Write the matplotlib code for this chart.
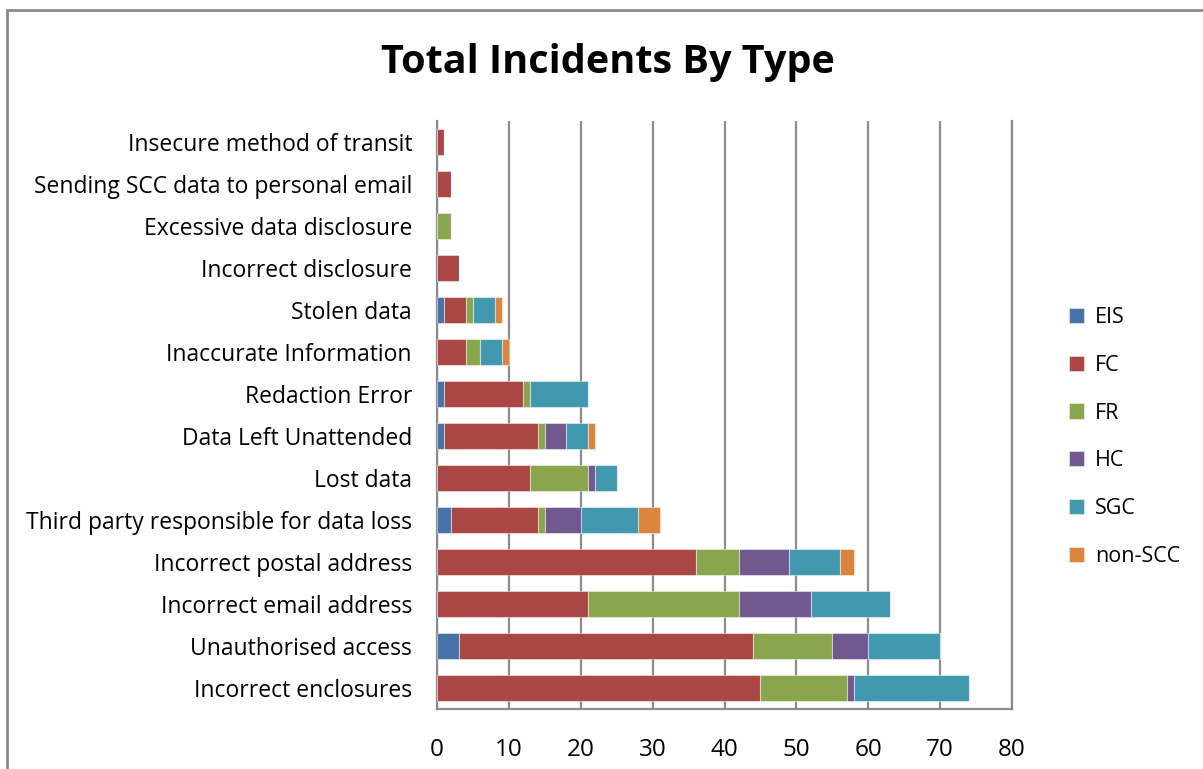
import matplotlib
matplotlib.use("Agg")
import matplotlib.pyplot as plt
import numpy as np
from matplotlib.patches import Rectangle

plt.rcParams['font.family'] = ['Open Sans', 'DejaVu Sans']

categories = [
    "Insecure method of transit",
    "Sending SCC data to personal email",
    "Excessive data disclosure",
    "Incorrect disclosure",
    "Stolen data",
    "Inaccurate Information",
    "Redaction Error",
    "Data Left Unattended",
    "Lost data",
    "Third party responsible for data loss",
    "Incorrect postal address",
    "Incorrect email address",
    "Unauthorised access",
    "Incorrect enclosures",
]

series_names = ["EIS", "FC", "FR", "HC", "SGC", "non-SCC"]

eis     = [0, 0, 0, 0, 1, 0, 1, 1, 0, 2, 0, 0, 3, 0]
fc      = [1, 2, 0, 3, 3, 4, 11, 13, 13, 12, 36, 21, 41, 45]
fr      = [0, 0, 2, 0, 1, 2, 1, 1, 8, 1, 6, 21, 11, 12]
hc      = [0, 0, 0, 0, 0, 0, 0, 3, 1, 5, 7, 10, 5, 1]
sgc     = [0, 0, 0, 0, 3, 3, 8, 3, 3, 8, 7, 11, 10, 16]
non_scc = [0, 0, 0, 0, 1, 1, 0, 1, 0, 3, 2, 0, 0, 0]

colors = ["#4572A7", "#AA4643", "#89A54E", "#71588F", "#4198AF", "#DB843D"]
grid_gray = "#8c8c8c"

fig = plt.figure(figsize=(12.03, 7.69), dpi=100)
W, H = 1203, 769

# chart frame
fig.patches.append(Rectangle((7 / W, -0.1), 1.2, (H - 10) / H + 0.1,
                             transform=fig.transFigure, fill=False,
                             edgecolor="#8a8a8a", linewidth=2.0))

ax = fig.add_axes([437 / W, (H - 709) / H, (1012 - 437) / W, (709 - 121) / H])

y = np.arange(len(categories))
left = np.zeros(len(categories))
for name, vals, c in zip(series_names, [eis, fc, fr, hc, sgc, non_scc], colors):
    vals = np.array(vals, dtype=float)
    ax.barh(y, vals, left=left, height=0.63, color=c, label=name,
            edgecolor=(1, 1, 1, 0.45), linewidth=0.8, zorder=3)
    left += vals

ax.set_xlim(0, 80)
ax.set_ylim(len(categories) - 0.5, -0.5)
ax.set_xticks(np.arange(0, 81, 10))
ax.set_yticks(y)
ax.set_yticklabels(categories, fontsize=16.5)
ax.tick_params(axis='x', labelsize=17.5, length=0, pad=21)
ax.tick_params(axis='y', length=0, pad=18)
ax.grid(axis='x', color=grid_gray, linewidth=1.6, zorder=0)
ax.spines["top"].set_visible(False)
for s in ["left", "bottom", "right"]:
    ax.spines[s].set_color(grid_gray)
    ax.spines[s].set_linewidth(1.6)

fig.text(608 / W, (H - 63) / H, "Total Incidents By Type", ha="center",
         va="center", fontsize=28.5, fontweight="bold")

leg = ax.legend(loc="center left", bbox_to_anchor=(1050 / W, (H - 437) / H),
                bbox_transform=fig.transFigure, frameon=False, fontsize=15.5,
                handlelength=0.7, handleheight=0.7, labelspacing=1.25,
                handletextpad=0.5)

fig.savefig("out.png", dpi=100)
